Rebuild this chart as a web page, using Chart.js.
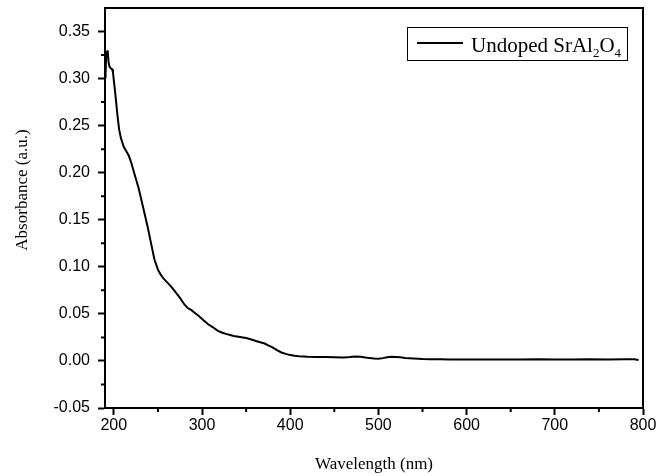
<!DOCTYPE html>
<html>
<head>
<meta charset="utf-8">
<script src="https://cdn.jsdelivr.net/npm/chart.js@4/dist/chart.umd.min.js"></script>
<style>
  html, body { margin: 0; padding: 0; background: #fff; }
  #wrap { width: 660px; height: 476px; }
</style>
</head>
<body>
<div id="wrap"><canvas id="c" width="660" height="476"></canvas></div>
<script>
const wavelength = [190.5,191.5,192,193,194,195,196.5,198,199,200,201,202,204,206,208,211,214,217,220,223,228,233,238,242,246,250,253,256,260,265,270,275,280,284,288,292,296,302,307,312,318,323,330,336,343,350,356,362,367,371,375,380,385,390,395,400,405,410,420,430,440,450,460,465,470,475,480,485,490,495,500,505,510,515,520,525,530,540,550,560,570,580,590,600,620,640,660,680,700,720,740,760,780,790,795];
const absorbance = [0.300,0.329,0.322,0.330,0.318,0.313,0.311,0.310,0.307,0.298,0.290,0.281,0.262,0.246,0.237,0.228,0.223,0.218,0.210,0.200,0.184,0.164,0.144,0.126,0.108,0.097,0.092,0.088,0.084,0.079,0.073,0.067,0.060,0.056,0.054,0.051,0.048,0.043,0.039,0.036,0.032,0.030,0.028,0.0266,0.0255,0.0243,0.0228,0.021,0.0196,0.0185,0.0165,0.0145,0.0115,0.009,0.0075,0.0062,0.0054,0.0049,0.0044,0.0043,0.0042,0.0040,0.0036,0.0038,0.0045,0.0048,0.0044,0.0037,0.0030,0.0026,0.0024,0.0030,0.0039,0.0044,0.0043,0.0038,0.0032,0.0025,0.0020,0.0018,0.0017,0.0016,0.0015,0.0015,0.0014,0.0016,0.0014,0.0017,0.0015,0.0016,0.0019,0.0016,0.0018,0.0017,0.0010];

const xTicks = [200,300,400,500,600,700,800];
const xMinorTicks = [250,350,450,550,650,750];
const yTicks = [-0.05,0.00,0.05,0.10,0.15,0.20,0.25,0.30,0.35];
const yMinorTicks = [-0.025,0.025,0.075,0.125,0.175,0.225,0.275,0.325];

const seriesLabel = 'Undoped SrAl2O4';
const xTitle = 'Wavelength (nm)';
const yTitle = 'Absorbance (a.u.)';

const points = wavelength.map((w, i) => ({ x: w, y: absorbance[i] }));

const framePlugin = {
  id: 'frame',
  afterDraw(chart) {
    const ctx = chart.ctx;
    const a = chart.chartArea;
    const xs = chart.scales.x, ys = chart.scales.y;
    ctx.save();
    ctx.strokeStyle = '#000';
    ctx.lineWidth = 2;
    // top and right border
    ctx.beginPath();
    ctx.moveTo(a.left, a.top);
    ctx.lineTo(a.right, a.top);
    ctx.lineTo(a.right, a.bottom);
    ctx.stroke();
    // minor ticks
    ctx.beginPath();
    xMinorTicks.forEach(v => {
      const px = xs.getPixelForValue(v);
      ctx.moveTo(px, a.bottom);
      ctx.lineTo(px, a.bottom + 4);
    });
    yMinorTicks.forEach(v => {
      const py = ys.getPixelForValue(v);
      ctx.moveTo(a.left, py);
      ctx.lineTo(a.left - 4, py);
    });
    ctx.stroke();

    // y title
    ctx.fillStyle = '#000';
    ctx.font = '17px "Liberation Serif", "Times New Roman", serif';
    ctx.textAlign = 'center';
    ctx.textBaseline = 'middle';
    ctx.save();
    ctx.translate(23, 190);
    ctx.rotate(-Math.PI / 2);
    ctx.fillText(yTitle, 0, 0);
    ctx.restore();

    // legend
    const bx = 407.5, by = 27.5, bw = 220, bh = 33;
    ctx.lineWidth = 1;
    ctx.strokeRect(bx, by, bw, bh);
    ctx.lineWidth = 2;
    ctx.beginPath();
    ctx.moveTo(417, 43);
    ctx.lineTo(463, 43);
    ctx.stroke();
    ctx.textAlign = 'left';
    ctx.textBaseline = 'alphabetic';
    const big = '21px "Liberation Serif", "Times New Roman", serif';
    const small = '13px "Liberation Serif", "Times New Roman", serif';
    let tx = 471;
    const base = 52;
    const parts = [['Undoped SrAl', big, 0], ['2', small, 5], ['O', big, 0], ['4', small, 5]];
    parts.forEach(([t, f, dy]) => {
      ctx.font = f;
      ctx.fillText(t, tx, base + dy);
      tx += ctx.measureText(t).width;
    });
    ctx.restore();
  }
};

new Chart(document.getElementById('c'), {
  type: 'line',
  data: {
    datasets: [{
      label: seriesLabel,
      data: points,
      borderColor: '#000',
      borderWidth: 2,
      pointRadius: 0,
      tension: 0,
      fill: false
    }]
  },
  options: {
    responsive: false,
    animation: false,
    layout: { padding: { top: 8, right: 17, left: 0, bottom: 0 } },
    plugins: {
      legend: { display: false },
      tooltip: { enabled: false }
    },
    scales: {
      x: {
        type: 'linear',
        min: 190,
        max: 800,
        afterBuildTicks: s => { s.ticks = xTicks.map(v => ({ value: v })); },
        afterFit: s => { s.height = 68; s.paddingLeft = 0; s.paddingRight = 0; },
        grid: { drawOnChartArea: false, tickLength: 7, tickWidth: 2, tickColor: '#000' },
        border: { display: true, color: '#000', width: 2 },
        ticks: {
          color: '#000',
          padding: 1,
          maxRotation: 0,
          font: { family: '"Liberation Sans", Arial, sans-serif', size: 16 },
          callback: v => String(v)
        },
        title: {
          display: true,
          text: xTitle,
          color: '#000',
          padding: { top: 0, bottom: 1 },
          font: { family: '"Liberation Serif", "Times New Roman", serif', size: 17 }
        }
      },
      y: {
        type: 'linear',
        min: -0.05,
        max: 0.375,
        afterBuildTicks: s => { s.ticks = yTicks.map(v => ({ value: v })); },
        afterFit: s => { s.width = 105; s.paddingTop = 0; s.paddingBottom = 0; },
        grid: { drawOnChartArea: false, tickLength: 7, tickWidth: 2, tickColor: '#000' },
        border: { display: true, color: '#000', width: 2 },
        ticks: {
          color: '#000',
          padding: 8,
          font: { family: '"Liberation Sans", Arial, sans-serif', size: 16 },
          callback: v => Number(v).toFixed(2)
        },
        title: { display: false }
      }
    }
  },
  plugins: [framePlugin]
});
</script>
</body>
</html>
